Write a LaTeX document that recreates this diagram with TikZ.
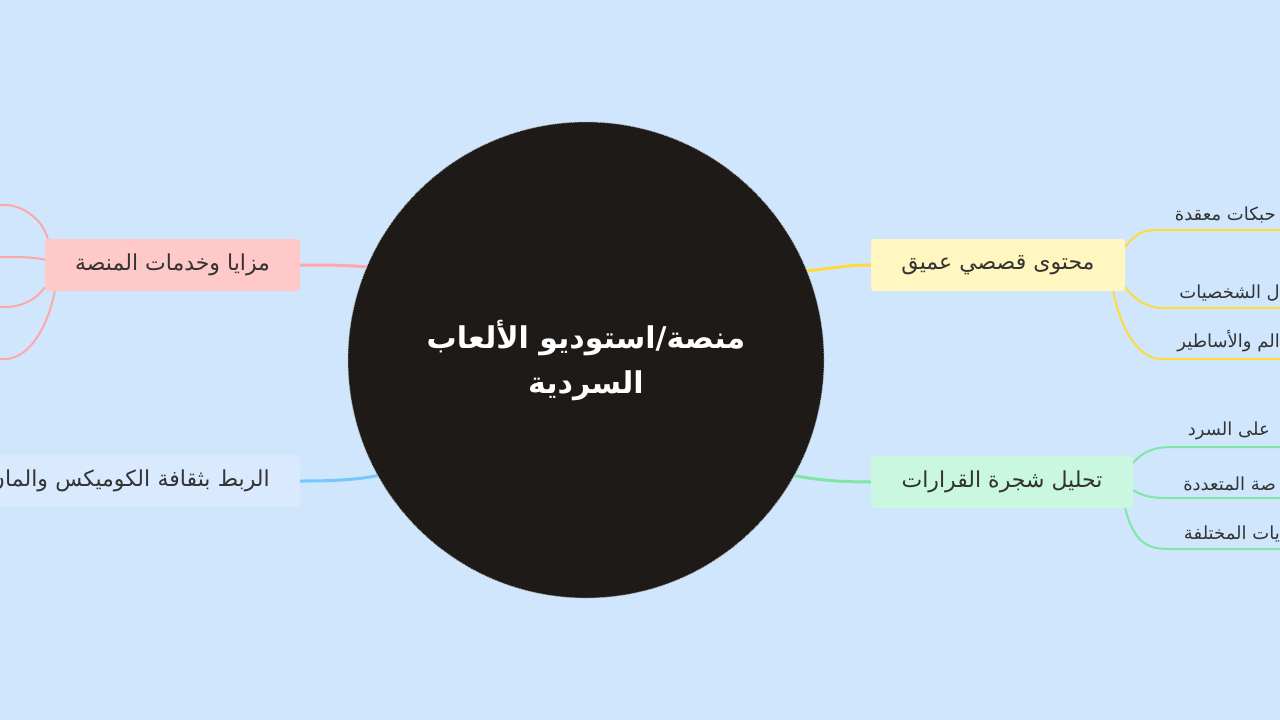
\documentclass[tikz,border=0pt]{standalone}
\usepackage{fontspec}
\usepackage{xcolor}
\newfontfamily\arabicfont[Script=Arabic]{DejaVu Sans}
\TeXXeTstate=1
\usetikzlibrary{positioning}

\definecolor{bgblue}{HTML}{D0E6FD}
\definecolor{coredark}{HTML}{1E1A17}
\definecolor{pinkbox}{HTML}{FFC9C9}
\definecolor{pinkline}{HTML}{FFA8A8}
\definecolor{yellowbox}{HTML}{FFF7BF}
\definecolor{yellowline}{HTML}{FFDA3D}
\definecolor{greenbox}{HTML}{C9F7DF}
\definecolor{greenline}{HTML}{80E6A6}
\definecolor{bluebox}{HTML}{DAEAFE}
\definecolor{blueline}{HTML}{74C8FC}
\definecolor{inkgray}{HTML}{333333}

\begin{document}
\begin{tikzpicture}[x=1pt, y=-1pt]
    \tikzstyle{core} = [circle, minimum size=476pt, fill=coredark, draw=gray!60, densely dotted, line width=0.8pt, text=white, align=center, font=\arabicfont\bfseries\fontsize{30}{45}\selectfont]
    \tikzstyle{topic} = [rectangle, rounded corners=3pt, minimum height=52pt, inner xsep=30pt, text=inkgray, font=\arabicfont\fontsize{22}{26}\selectfont]
    \tikzstyle{leaf} = [inner xsep=16pt, inner ysep=7pt, anchor=south east, text=inkgray, font=\arabicfont\fontsize{18}{21}\selectfont]
    \tikzstyle{stem} = [line width=3pt]
    \tikzstyle{twig} = [line width=2pt]

    \fill [bgblue] (0,0) rectangle (1280,720);
    \useasboundingbox (0,0) rectangle (1280,720);
    \clip (0,0) rectangle (1280,720);

    \node (hub) [core] at (586,360) {\beginR منصة/استوديو الألعاب\endR\\\beginR السردية\endR};

    \node (perks) [topic, fill=pinkbox, minimum width=255pt] at (172.5,265) {\beginR مزايا وخدمات المنصة\endR};
    \node (story) [topic, fill=yellowbox, minimum width=254pt] at (998,265) {\beginR محتوى قصصي عميق\endR};
    \node (choices) [topic, fill=greenbox, minimum width=262pt] at (1002,482) {\beginR تحليل شجرة القرارات\endR};
    \node (comics) [topic, fill=bluebox, anchor=east, text width=320pt, align=right] at (300,481) {\beginR الربط بثقافة الكوميكس والمان\endR};

    \node (plots) [leaf] at (1292,230) {\beginR حبكات معقدة\endR};
    \node (heroes) [leaf] at (1296,308) {\beginR ل الشخصيات\endR};
    \node (myths) [leaf] at (1296,359) {\beginR الم والأساطير\endR};
    \node (impact) [leaf] at (1286,447) {\beginR على السرد\endR};
    \node (endings) [leaf] at (1292,498) {\beginR صة المتعددة\endR};
    \node (paths) [leaf] at (1296,549) {\beginR يات المختلفة\endR};

    \coordinate (perk1) at (-30,205);
    \coordinate (perk2) at (-30,257);
    \coordinate (perk3) at (-30,307);
    \coordinate (perk4) at (-30,359);

    \draw [stem, pinkline] (hub.157) .. controls +(-25,-2) and +(25,0) .. (perks.east);
    \draw [stem, yellowline] (hub.22.5) .. controls +(25,-2) and +(-25,0) .. (story.west);
    \draw [stem, greenline] (hub.-29) .. controls +(25,5) and +(-25,0) .. (choices.west);
    \draw [stem, blueline] (hub.209) .. controls +(-25,5) and +(25,0) .. (comics.east);

    \draw [twig, yellowline] ([yshift=-8pt]story.north east) .. controls +(10,-13) and +(-16,0) .. (plots.south west) -- (plots.south east);
    \draw [twig, yellowline] ([yshift=4pt]story.south east) .. controls +(10,13) and +(-16,0) .. (heroes.south west) -- (heroes.south east);
    \draw [twig, yellowline] ([xshift=-12pt]story.south east) .. controls +(8,40) and +(-22,0) .. (myths.south west) -- (myths.south east);

    \draw [twig, greenline] ([yshift=-7pt]choices.north east) .. controls +(10,-12) and +(-16,0) .. (impact.south west) -- (impact.south east);
    \draw [twig, greenline] ([yshift=18pt]choices.south east) .. controls +(10,6) and +(-16,0) .. (endings.south west) -- (endings.south east);
    \draw [twig, greenline] ([xshift=-8pt]choices.south east) .. controls +(8,32) and +(-22,0) .. (paths.south west) -- (paths.south east);

    \draw [twig, pinkline] ([xshift=3pt]perks.north west) .. controls +(-6,-22) and +(15,0) .. (5,205) -- (perk1);
    \draw [twig, pinkline] ([yshift=-21pt]perks.north west) .. controls +(-10,-3) and +(10,0) .. (5,257) -- (perk2);
    \draw [twig, pinkline] ([yshift=4pt]perks.south west) .. controls +(-10,14) and +(15,0) .. (5,307) -- (perk3);
    \draw [twig, pinkline] ([xshift=10pt]perks.south west) .. controls +(-8,40) and +(22,0) .. (5,359) -- (perk4);
\end{tikzpicture}
\end{document}
